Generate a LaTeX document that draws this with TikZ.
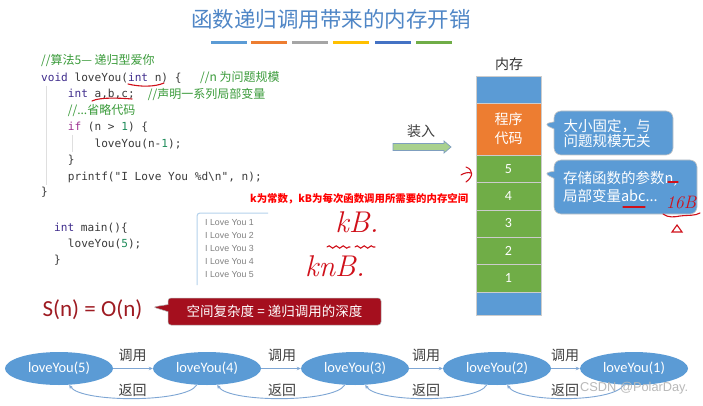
\documentclass[tikz,border=0pt]{standalone}
\usepackage{fontspec}
\newfontfamily\cjk{Noto Sans CJK SC}
\newfontfamily\calfont{Carlito}
\newfontfamily\codefont{DejaVu Sans Mono}
\newfontfamily\arialfont{Liberation Sans}
\usetikzlibrary{shapes.geometric,shapes.callouts,arrows.meta,decorations.pathmorphing}
\definecolor{titleblue}{HTML}{4F86C6}
\definecolor{memblue}{HTML}{5B9BD5}
\definecolor{memorange}{HTML}{ED7D31}
\definecolor{memgreen}{HTML}{70AD47}
\definecolor{bargray}{HTML}{A5A5A5}
\definecolor{baryellow}{HTML}{FFC000}
\definecolor{bardblue}{HTML}{4472C4}
\definecolor{cmtgreen}{HTML}{3A9B3A}
\definecolor{kw}{HTML}{3F2C8C}
\definecolor{kwif}{HTML}{9B2F8F}
\definecolor{num}{HTML}{1E8C5A}
\definecolor{codegray}{HTML}{3A3A3A}
\definecolor{sred}{HTML}{9E1B22}
\definecolor{calloutred}{HTML}{A50F1E}
\definecolor{arrowgreen}{HTML}{A9D18E}
\definecolor{arrowline}{HTML}{7F9FBF}
\definecolor{handred}{HTML}{D0101A}
\definecolor{linkblue}{HTML}{7EA6D4}
\tikzset{
  code/.style={anchor=west, inner sep=0pt, text=codegray, font=\codefont\fontsize{11.1}{13}\selectfont},
  cmt/.style={anchor=west, inner sep=0pt, text=cmtgreen, font=\cjk\fontsize{12}{14}\selectfont},
  mem/.style={draw=white!80!black, line width=0.6pt, minimum width=65pt, inner sep=0pt, text=white},
  bar/.style={minimum width=36pt, minimum height=3.5pt, inner sep=0pt, draw=none},
  bubble/.style={rectangle callout, rounded corners=7pt, fill=memblue, draw=gray!45, line width=0.6pt,
     text=white, align=left, font=\cjk\fontsize{14.5}{18}\selectfont},
  callnode/.style={ellipse, fill=memblue, draw=none, minimum width=108pt, minimum height=33pt, inner sep=0pt,
     text=white, font=\calfont\fontsize{14.5}{16}\selectfont},
  calllink/.style={draw=linkblue, line width=0.9pt, -{Stealth[length=4pt,width=3.5pt]}},
  linklabel/.style={text=black!75, font=\cjk\fontsize{14}{16}\selectfont, inner sep=0pt},
  hand/.style={text=handred, font=\itshape\fontsize{30}{32}\selectfont, inner sep=0pt},
  handline/.style={draw=handred, line width=1.1pt, line cap=round}
}
\begin{document}
\begin{tikzpicture}[x=1pt,y=-1pt]
\useasboundingbox (0,0) rectangle (703,406);
\fill[white] (0,0) rectangle (703,406);

% title and colour bars
\node[text=titleblue, font=\cjk\fontsize{21.5}{24}\selectfont] (title) at (331,19) {函数递归调用带来的内存开销};
\node[bar, fill=memblue]    (b1) at (229,42.5) {};
\node[bar, fill=memorange]  (b2) at (268.5,42.5) {};
\node[bar, fill=bargray]    (b3) at (310,42.5) {};
\node[bar, fill=baryellow]  (b4) at (351,42.5) {};
\node[bar, fill=bardblue]   (b5) at (392.5,42.5) {};
\node[bar, fill=memgreen]   (b6) at (433.5,42.5) {};

% code
\draw[gray!25, line width=0.6pt] (46,86) -- (46,185);
\draw[gray!25, line width=0.6pt] (72,135) -- (72,152);
\node[cmt] (l1) at (41,61) {//算法5— 递归型爱你};
\node[code] (l2) at (41,77.7) {{\color{kw}void} loveYou({\color{kw}int} n) \{};
\node[cmt] (l2c) at (200,77.7) {//n 为问题规模};
\node[code] (l3) at (67.7,94.3) {{\color{kw}int} a,b,c;};
\node[cmt] (l3c) at (147.7,94.3) {//声明一系列局部变量};
\node[cmt] (l4) at (67.7,110.7) {//...省略代码};
\node[code] (l5) at (67.7,126.7) {{\color{kwif}if} (n > {\color{num}1}) \{};
\node[code] (l6) at (94.4,144) {loveYou(n-{\color{num}1});};
\node[code] (l7) at (67.7,160) {\}};
\node[code] (l8) at (67.7,177) {printf("I Love You \%d\textbackslash n", n);};
\node[code] (l9) at (41,191.7) {\}};
\node[code] (m1) at (54,228) {{\color{kw}int} main()\{};
\node[code] (m2) at (67.7,244) {loveYou({\color{num}5});};
\node[code] (m3) at (54,260) {\}};

% red annotations on code
\draw[handline] (128,84) .. controls (140,87) and (155,87) .. (164,83);
\draw[handline] (92,101) .. controls (100,97) and (120,98) .. (132,99);

% red note
\node[anchor=west, inner sep=0pt, text=red, font=\cjk\bfseries\fontsize{10.4}{12}\selectfont] (note) at (250,199) {k为常数，kB为每次函数调用所需要的内存空间};

% output box
\draw[draw=memblue!45, line width=1pt] (197,285) -- (197,216) arc (180:270:3) -- (268,213);
\node[anchor=west, inner sep=0pt, text=gray, font=\arialfont\fontsize{8.8}{12.8}\selectfont, align=left] (out) at (205,248.5)
 {I Love You 1\\I Love You 2\\I Love You 3\\I Love You 4\\I Love You 5};

% handwritten kB / knB
\node[hand] (kb) at (357,222) {kB.};
\draw[handline, decorate, decoration={snake, amplitude=1.2pt, segment length=7pt}] (327,247) -- (350,247);
\draw[handline, decorate, decoration={snake, amplitude=1.2pt, segment length=7pt}] (355,247) -- (375,247);
\node[hand] (knb) at (335,266) {knB.};

% load arrow
\node[text=black!75, font=\cjk\fontsize{14}{16}\selectfont, inner sep=0pt] (load) at (421,131) {装入};
\draw[fill=arrowgreen, draw=arrowline, line width=0.7pt] (393,143.5) -- (444,143.5) -- (444,141) -- (451,147) -- (444,153) -- (444,150.5) -- (393,150.5) -- cycle;

% memory column
\node[text=black!80, font=\cjk\fontsize{14}{16}\selectfont, inner sep=0pt] (memlabel) at (509,64) {内存};
\node[mem, fill=memblue, minimum height=27pt] (top) at (508.5,89.5) {};
\node[mem, fill=memorange, minimum height=52pt, align=center, font=\cjk\fontsize{14}{19}\selectfont] (prog) at (508.5,129) {程序\\代码};
\node[mem, fill=memgreen, minimum height=27.4pt, font=\calfont\fontsize{14}{16}\selectfont] (s5) at (508.5,168.7) {5};
\node[mem, fill=memgreen, minimum height=27.4pt, font=\calfont\fontsize{14}{16}\selectfont] (s4) at (508.5,196.1) {4};
\node[mem, fill=memgreen, minimum height=27.4pt, font=\calfont\fontsize{14}{16}\selectfont] (s3) at (508.5,223.5) {3};
\node[mem, fill=memgreen, minimum height=27.4pt, font=\calfont\fontsize{14}{16}\selectfont] (s2) at (508.5,250.9) {2};
\node[mem, fill=memgreen, minimum height=27.4pt, font=\calfont\fontsize{14}{16}\selectfont] (s1) at (508.5,278.3) {1};
\node[mem, fill=memblue, minimum height=23pt] (bottom) at (508.5,303.5) {};

% red hook near 5
\draw[handline] (461,175) .. controls (464,173) and (468,172) .. (471,173);
\draw[handline] (466,167) .. controls (474,170) and (473,177) .. (466,182);

% callouts
\node[bubble, minimum width=119pt, minimum height=44pt, inner xsep=9.5pt, text width=100pt,
  callout absolute pointer={(543,124)}] (c1) at (613.5,133) {大小固定，与\\[-3pt]问题规模无关};
\node[bubble, minimum width=143pt, minimum height=54pt, inner xsep=9pt, text width=125pt,
  callout absolute pointer={(543,173)}] (c2) at (625.5,187) {存储函数的参数n,\\局部变量abc...};

% 16B annotation
\draw[handline] (668,182) -- (678,182);
\draw[handline] (623,207) -- (645,207);
\node[hand, font=\itshape\fontsize{18}{20}\selectfont] (sixteen) at (681,203) {16B};
\draw[handline] (663,214) .. controls (668,218) and (675,217) .. (680,216) .. controls (688,215) and (695,216) .. (700,213);
\draw[handline] (672,232) -- (677,225) -- (682,232) -- cycle;

% S(n)
\node[text=sred, font=\calfont\fontsize{23}{26}\selectfont, inner sep=0pt] (sn) at (92.5,310) {S(n) = O(n)};
\node[rectangle callout, rounded corners=3pt, fill=calloutred, draw=gray!60, line width=0.5pt,
  minimum width=213pt, minimum height=27pt, inner sep=0pt, text=white, font=\cjk\fontsize{13.5}{15}\selectfont,
  callout absolute pointer={(153,307)}] (depth) at (274.5,311.5) {空间复杂度 = 递归调用的深度};

% call chain
\node[callnode] (e5) at (59,368.5) {loveYou(5)};
\node[callnode] (e4) at (207,368.5) {loveYou(4)};
\node[callnode] (e3) at (355,368.5) {loveYou(3)};
\node[callnode] (e2) at (497,368.5) {loveYou(2)};
\node[callnode] (e1) at (634,368.5) {loveYou(1)};
\foreach \a/\b in {e5/e4,e4/e3,e3/e2,e2/e1}{
  \draw[calllink] (\a.east) -- (\b.west);
  \draw[calllink] (\b.238) .. controls +(-10,18) and +(12,18) .. (\a.302);
}
\node[linklabel] (t1) at (132.5,355) {调用};
\node[linklabel] (t2) at (282,355) {调用};
\node[linklabel] (t3) at (426,355) {调用};
\node[linklabel] (t4) at (565,355) {调用};
\node[linklabel] (r1) at (132.5,390) {返回};
\node[linklabel] (r2) at (282,390) {返回};
\node[linklabel] (r3) at (426,390) {返回};
\node[linklabel] (r4) at (565,390) {返回};

% watermark
\node[anchor=west, text=gray!55, font=\arialfont\fontsize{12.8}{15}\selectfont, inner sep=0pt] (wm) at (580,388) {CSDN @PolarDay.};
\end{tikzpicture}
\end{document}
